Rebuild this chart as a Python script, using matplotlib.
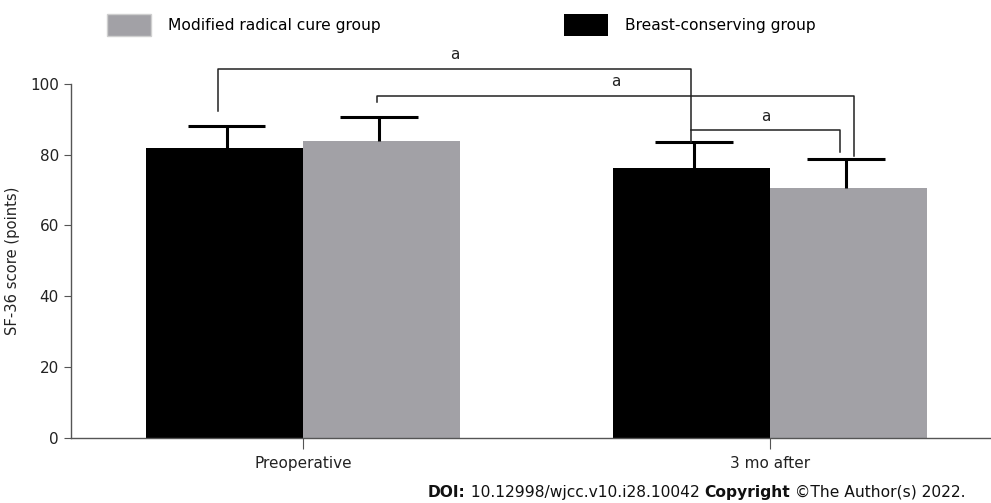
import numpy as np
import matplotlib.pyplot as plt
from matplotlib.patches import Patch

# 数据
groups = ['Preoperative', '3 mo after']
series = ['Breast-conserving group', 'Modified radical cure group']
breast_mean = [81.8, 76.2]
breast_err = [6.2, 7.5]
radical_mean = [84.0, 70.7]
radical_err = [6.8, 8.1]

# 显著性标注: (左腿x, 左腿底, 右腿x, 右腿底, 横线高度, 标签)
sig_lines = [
    (-0.181, 92.3, 0.830, 83.7, 104.3, 'a'),
    (0.158, 94.8, 1.180, 79.6, 96.7, 'a'),
    (0.830, 87.0, 1.150, 80.7, 87.0, 'a'),
]

black = '#000000'
gray = '#a2a1a6'
width = 0.336
cap = 0.083

fig = plt.figure(figsize=(9.91, 5.03), dpi=100)
ax = fig.add_axes([0.0713, 0.1298, 0.9287, 0.7032])

x = np.arange(len(groups))
xb = x - width / 2 + 0.005
xr = x + width / 2 - 0.005
ax.bar(x - width / 2, breast_mean, width, color=black, zorder=2)
ax.bar(x + width / 2, radical_mean, width, color=gray, zorder=2)

# 只画上半部分误差棒
for xs, m, e in [(xb, breast_mean, breast_err), (xr, radical_mean, radical_err)]:
    top = np.array(m) + np.array(e)
    ax.vlines(xs, m, top, color=black, lw=2.2, zorder=3)
    ax.hlines(top, xs - cap, xs + cap, color=black, lw=2.2, zorder=3)

for x1, y1, x2, y2, h, lab in sig_lines:
    ax.plot([x1, x1, x2, x2], [y1, h, h, y2], color='#222222', lw=1.1,
            clip_on=False, zorder=4)
    ax.text((x1 + x2) / 2, h + 1.8, lab, ha='center', va='bottom',
            fontsize=11, color='#222222')

ax.set_xlim(-0.497, 1.473)
ax.set_ylim(0, 100)
ax.set_yticks([0, 20, 40, 60, 80, 100])
ax.set_xticks(x)
ax.set_xticklabels(groups)
ax.set_ylabel('SF-36 score (points)', fontsize=10.6, color='#222222', labelpad=7)

for s in ['top', 'right']:
    ax.spines[s].set_visible(False)
for s in ['left', 'bottom']:
    ax.spines[s].set_color('#555555')
    ax.spines[s].set_linewidth(1.0)
ax.tick_params(axis='y', length=5, color='#555555', labelsize=11, labelcolor='#222222')
ax.tick_params(axis='x', length=8, color='#555555', labelsize=11, labelcolor='#222222', pad=5)

# 图例
handles = [Patch(facecolor=gray, edgecolor='#cfcfcf'), Patch(facecolor=black)]
fig.legend(handles, ['Modified radical cure group', 'Breast-conserving group'],
           loc='upper left', bbox_to_anchor=(0.094, 1.0), ncol=2, frameon=False,
           fontsize=11.2, handlelength=2.8, handleheight=1.8, handletextpad=1.1,
           columnspacing=11.8)

# 底部版权信息（粗体部分单独画）
fig.canvas.draw()
r = fig.canvas.get_renderer()
parts = [('DOI:', 'bold'), (' 10.12998/wjcc.v10.i28.10042 ', 'normal'),
         ('Copyright', 'bold'), (' ©The Author(s) 2022.', 'normal')]
xpos = 428
for s, w in parts:
    t = fig.text(xpos / 991, 0.012, s, fontsize=11.2, fontweight=w, color='#111111')
    xpos = t.get_window_extent(r).x1

fig.savefig('out.png', dpi=100)
